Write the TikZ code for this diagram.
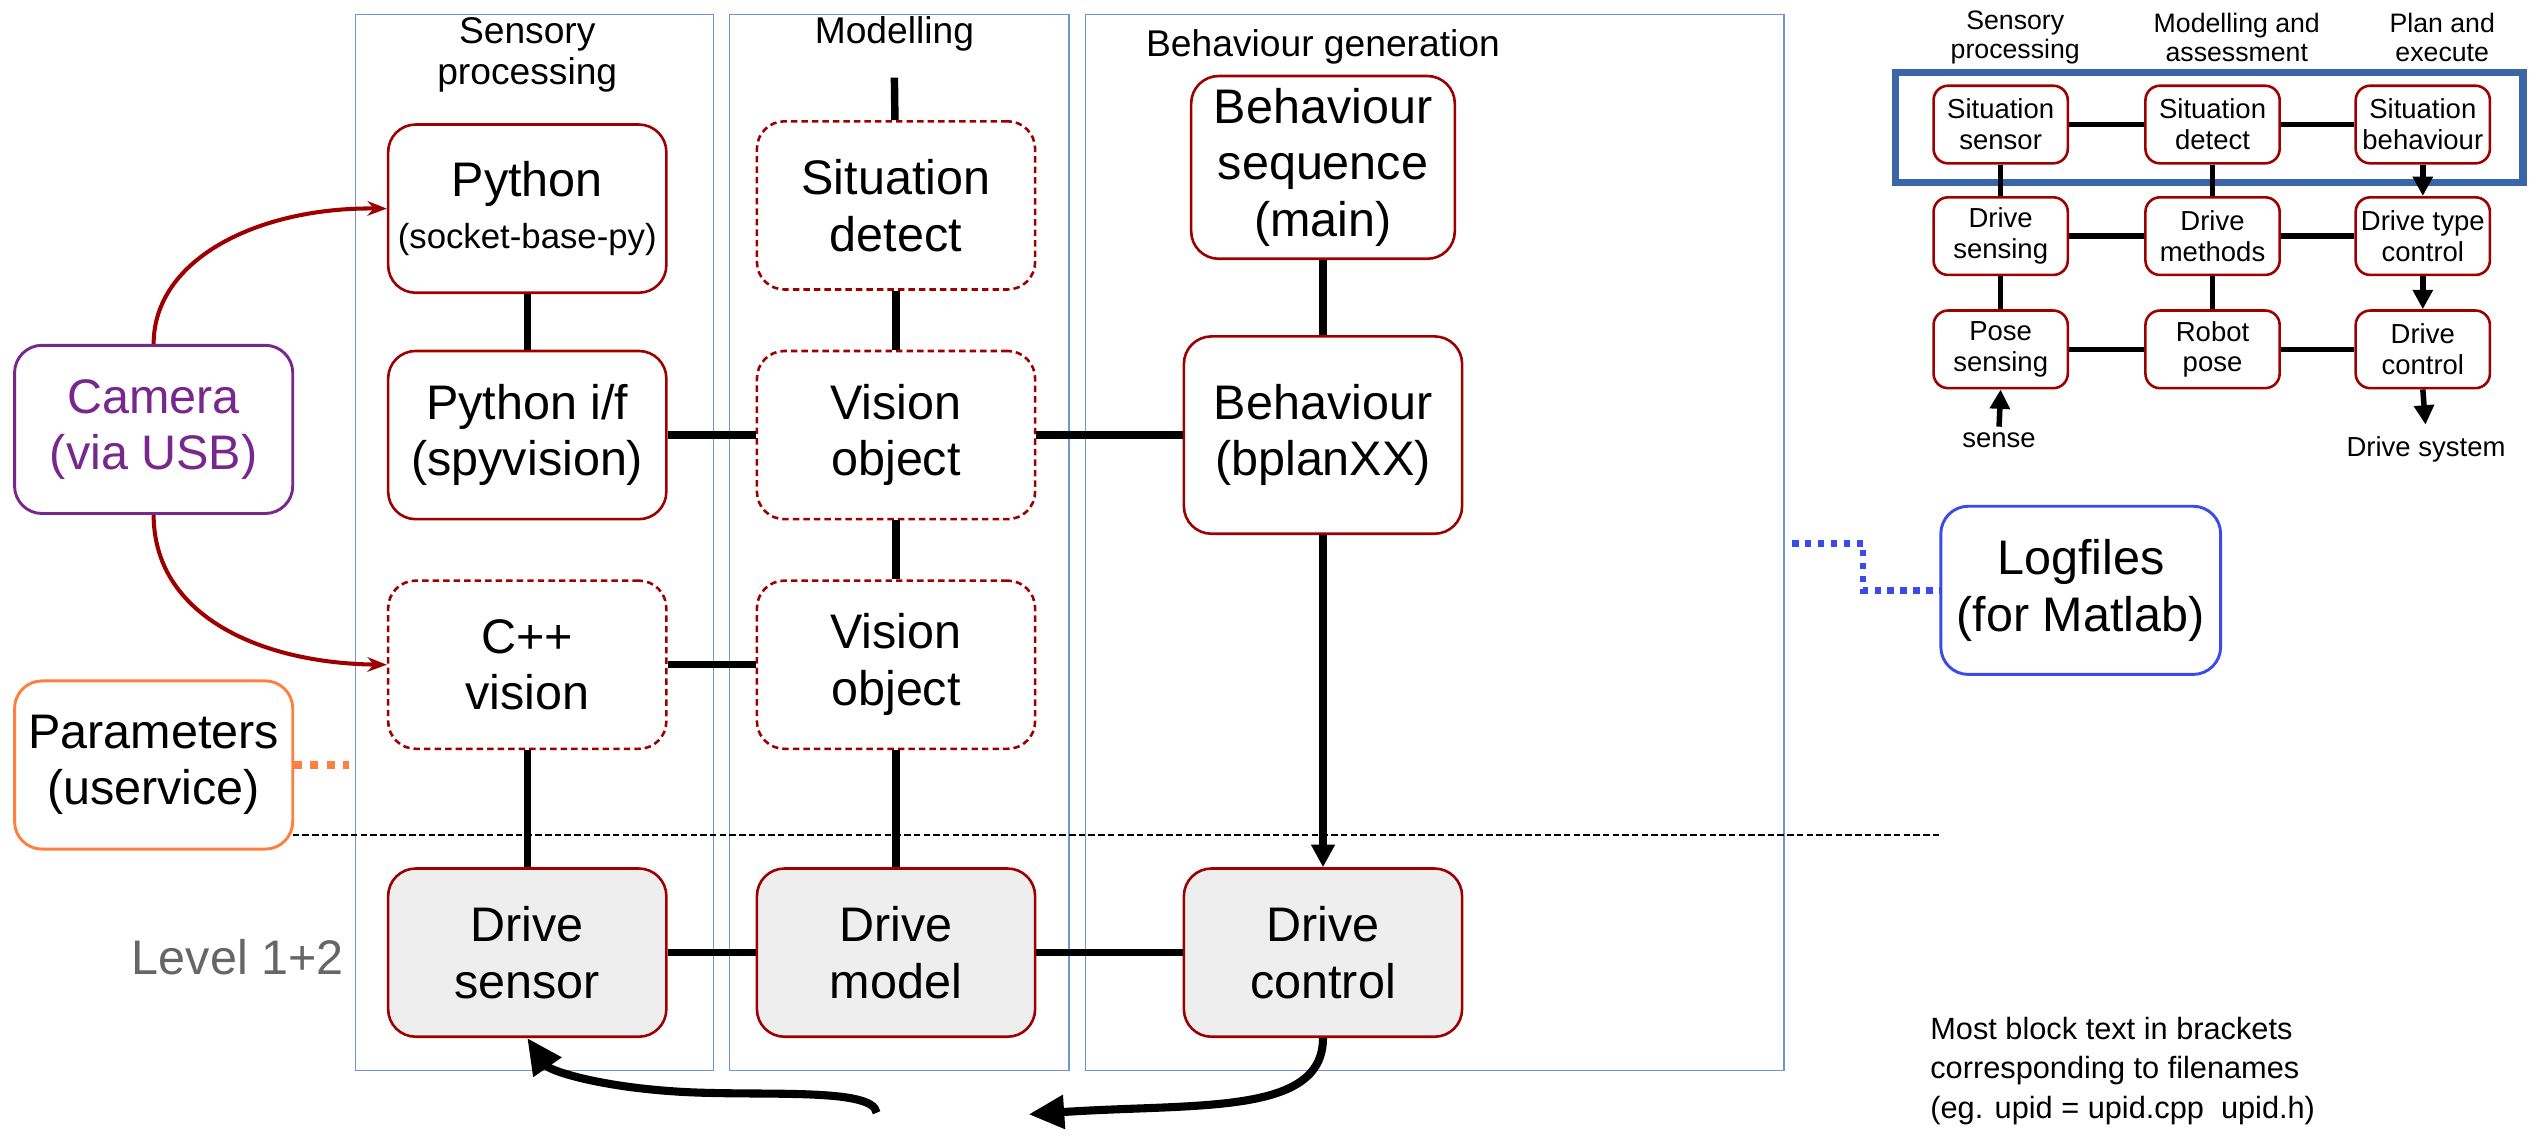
\documentclass[tikz,border=0pt]{standalone}
\usepackage{fontspec}
\setmainfont{Liberation Sans}
\usetikzlibrary{arrows.meta,positioning}

\definecolor{boxred}{HTML}{9E0000}
\definecolor{lowgray}{HTML}{EEEEEE}
\definecolor{frameblue}{HTML}{7095CF}
\definecolor{campurple}{HTML}{78288C}
\definecolor{paramorange}{HTML}{FF7F3F}
\definecolor{logblue}{HTML}{3B4BEA}
\definecolor{miniblue}{HTML}{3A66A8}
\definecolor{levelgray}{HTML}{666666}

\begin{document}
\begin{tikzpicture}[x=1pt,y=-1pt,
  block/.style={draw=boxred,line width=1.6pt,rounded corners=17pt,minimum width=172pt,minimum height=104pt,inner sep=0pt,align=center,font=\fontsize{30}{35}\selectfont},
  dblock/.style={block,dash pattern=on 4pt off 2.5pt},
  lblock/.style={block,fill=lowgray},
  sideblock/.style={block,line width=1.8pt},
  mblock/.style={draw=boxred,line width=1.6pt,rounded corners=9pt,minimum width=83pt,minimum height=48pt,inner sep=0pt,align=center,font=\fontsize{17}{19}\selectfont},
  frame/.style={draw=frameblue,line width=0.8pt},
  title/.style={align=center,font=\fontsize{23}{25}\selectfont},
  mtitle/.style={align=center,font=\fontsize{16.5}{18}\selectfont},
  link/.style={line width=4.6pt},
  mlink/.style={line width=3.4pt},
  down/.style={line width=4.6pt,-{Triangle[length=14pt,width=14pt]}},
  mdown/.style={line width=3.4pt,-{Triangle[length=12pt,width=12pt]}},
  cam/.style={draw=boxred,line width=2.5pt,-{Stealth[length=12pt,width=9pt]}},
  fat/.style={line width=5pt,-{Triangle[length=22pt,width=20pt]}},
  dots/.style={line width=4pt,dash pattern=on 4pt off 4pt}]

  \useasboundingbox (0,0) rectangle (1568,703);

  % column frames
  \draw[frame] (220,9) rectangle (441,662);
  \draw[frame] (451,9) rectangle (661,662);
  \draw[frame] (671,9) rectangle (1103,662);
  \node[title] (tsens) at (326,34) {Sensory\\processing};
  \node[title] (tmod) at (553,21) {Modelling};
  \node[title] (tbeh) at (818,29) {Behaviour generation};

  \node [block] (pyif) at (326,269) {Python i/f\\(spyvision)};
  \node [block, above of=pyif, node distance=140pt] (python) {Python\\[-3pt]{\fontsize{21.5}{24}\selectfont(socket-base-py)}};
  \node [dblock, below of=pyif, node distance=142pt] (cpp) {C++\\vision};
  \node [lblock, below of=cpp, node distance=178pt] (dsens) {Drive\\sensor};
  \node [dblock, right of=pyif, node distance=228pt] (vobj) {Vision\\object};
  \node [dblock, above of=vobj, node distance=142pt] (sitdet) {Situation\\detect};
  \node [dblock, below of=vobj, node distance=142pt] (vobjb) {Vision\\object};
  \node [lblock, below of=vobjb, node distance=178pt] (dmodel) {Drive\\model};
  \node [block, right of=vobj, node distance=264pt, minimum height=122pt] (bplan) {Behaviour\\(bplanXX)};
  \node [block, above of=bplan, node distance=165.5pt, minimum width=163pt, minimum height=113pt] (bseq) {Behaviour\\sequence\\(main)};
  \node [lblock, below of=bplan, node distance=320pt] (dctl) {Drive\\control};

  \node [sideblock, draw=campurple, text=campurple] (camera) at (95,265.5) {Camera\\(via USB)};
  \node [sideblock, draw=paramorange] (param) at (95,473) {Parameters\\(uservice)};
  \node [sideblock, draw=logblue, minimum width=173pt] (logf) at (1286.5,365) {Logfiles\\(for Matlab)};
  \node [font=\fontsize{30}{35}\selectfont, text=levelgray] (level) at (147,592) {Level 1+2};
  \node [align=left, anchor=west, font=\fontsize{19}{24.5}\selectfont] (note) at (1190,662) {Most block text in brackets\\corresponding to filenames\\(eg. upid = upid.cpp\ \ upid.h)};

  \coordinate (stub) at (553,48);
  \coordinate (parend) at (216,473);
  \coordinate (logstart) at (1108,336);
  \coordinate (tailb) at (542,688);
  \coordinate (tipa) at (636,689);

  \path[link] (stub) edge (sitdet);
  \path[link] (python) edge (pyif);
  \path[link] (cpp) edge (dsens);
  \path[link] (sitdet) edge (vobj);
  \path[link] (vobj) edge (vobjb);
  \path[link] (vobjb) edge (dmodel);
  \path[link] (bseq) edge (bplan);
  \path[link] (pyif) edge (vobj);
  \path[link] (vobj) edge (bplan);
  \path[link] (cpp) edge (vobjb);
  \path[link] (dsens) edge (dmodel);
  \path[link] (dmodel) edge (dctl);
  \draw[down] (bplan) -- (dctl);

  \draw[cam] (camera.north) .. controls (95,160) and (160,128) .. (python.west);
  \draw[cam] (camera.south) .. controls (95,380) and (160,410) .. (cpp.west);

  \draw[dots, draw=paramorange, line width=5pt, dash pattern=on 5pt off 5pt] (param.east) -- (parend);
  \draw[dots, draw=logblue] (logstart) -- ++(44,0) |- (logf.west);
  \draw[line width=1.3pt, dash pattern=on 4pt off 2pt] (181,516) -- (1200,516);

  \draw[fat] (dctl.south) .. controls (818,690) and (740,682) .. (tipa);
  \draw[fat] (tailb) .. controls (540,672) and (470,678) .. (420,675) .. controls (370,672) and (340,662) .. (dsens.south);

  % small overview
  \node[mtitle] (msub) at (1246,23) {Sensory\\processing};
  \node[mtitle] (mmod) at (1383,23) {Modelling and\\assessment};
  \node[mtitle] (mplan) at (1510,23) {Plan and\\execute};

  \node [mblock] (msit) at (1237,77) {Situation\\sensor};
  \node [mblock, right of=msit, node distance=131pt] (mdet) {Situation\\detect};
  \node [mblock, right of=mdet, node distance=130pt] (mbeh) {Situation\\behaviour};
  \node [mblock, below of=msit, node distance=69pt] (mdsens) {Drive\\sensing};
  \node [mblock, below of=mdet, node distance=69pt] (mmeth) {Drive\\methods};
  \node [mblock, below of=mbeh, node distance=69pt] (mtype) {Drive type\\control};
  \node [mblock, below of=mdsens, node distance=70pt] (mpose) {Pose\\sensing};
  \node [mblock, below of=mmeth, node distance=70pt] (mrob) {Robot\\pose};
  \node [mblock, below of=mtype, node distance=70pt] (mctl) {Drive\\control};
  \node [font=\fontsize{17}{19}\selectfont] (sense) at (1236,272) {sense};
  \node [font=\fontsize{17}{19}\selectfont] (dsys) at (1500,278) {Drive system};

  \draw[miniblue, line width=4.5pt] (1172,45) rectangle (1560,113);

  \path[mlink] (msit) edge (mdet);
  \path[mlink] (mdet) edge (mbeh);
  \path[mlink] (mdsens) edge (mmeth);
  \path[mlink] (mmeth) edge (mtype);
  \path[mlink] (mpose) edge (mrob);
  \path[mlink] (mrob) edge (mctl);
  \path[mlink] (msit) edge (mdsens);
  \path[mlink] (mdsens) edge (mpose);
  \path[mlink] (mdet) edge (mmeth);
  \path[mlink] (mmeth) edge (mrob);
  \draw[mdown] (mbeh) -- (mtype);
  \draw[mdown] (mtype) -- (mctl);
  \draw[mdown] (sense.north) -- (mpose.south);
  \draw[mdown, shorten >=4pt] (mctl.south) -- (dsys.north);

\end{tikzpicture}
\end{document}
